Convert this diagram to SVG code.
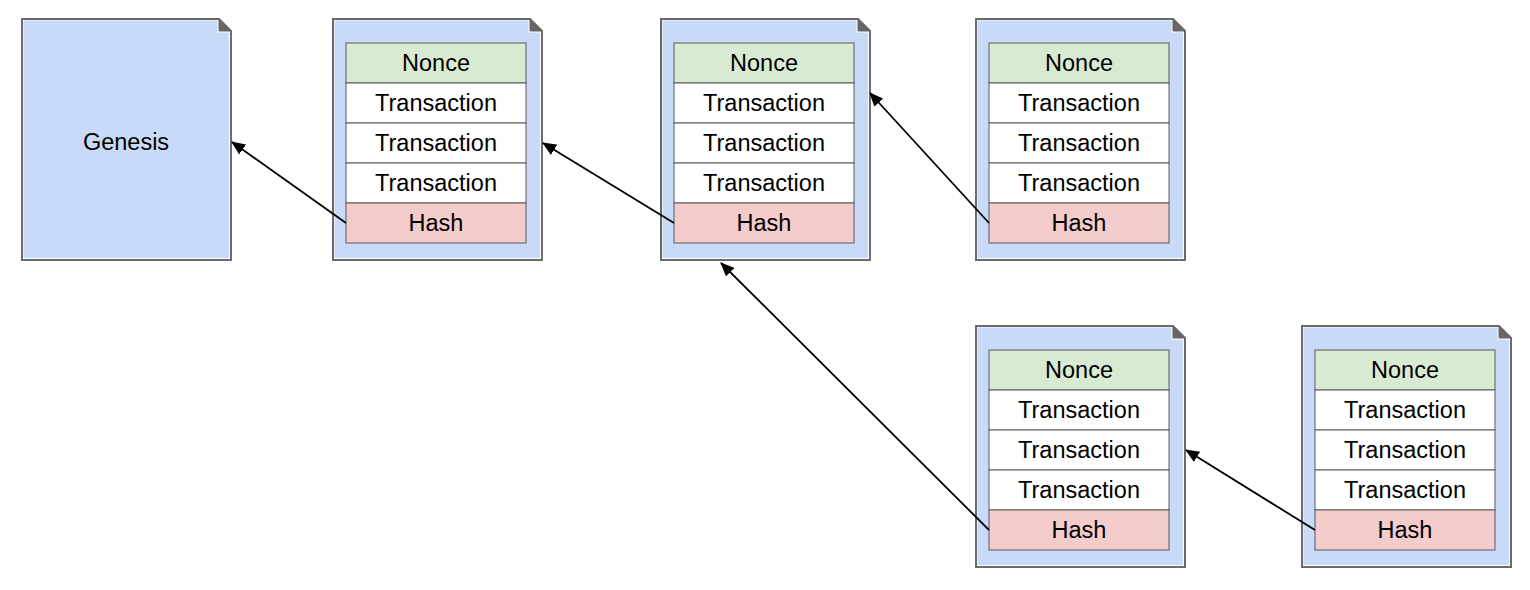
<svg xmlns="http://www.w3.org/2000/svg" xmlns:xlink="http://www.w3.org/1999/xlink" width="1530" height="590" viewBox="0 0 1530 590">
<style>
text{font-family:"Liberation Sans",Arial,sans-serif;font-size:23.5px;fill:#000;text-anchor:middle}
.nonce{fill:#d9ead3;stroke:#595959;stroke-width:1}
.tx{fill:#ffffff;stroke:#595959;stroke-width:1}
.hash{fill:#f4cccc;stroke:#595959;stroke-width:1}
.conn{stroke:#000;stroke-width:1.8;fill:none;marker-end:url(#arr)}
</style>
<defs>
<marker id="arr" markerUnits="userSpaceOnUse" markerWidth="14" markerHeight="12" refX="13" refY="6" orient="auto" viewBox="0 0 14 12">
<path d="M0,0 L14,6 L0,12 Z" fill="#000"/>
</marker>
<g id="doc">
<path d="M0,0 H197 L209,12 V241 H0 Z" fill="#ffffff" stroke="#6b6b6b" stroke-width="2"/>
<path d="M1.5,1.5 H195.5 V13.5 H207 V239 H1.5 Z" fill="#c9daf8"/>
<path d="M197,0 L209,12 H197 Z" fill="#666666" stroke="#666666" stroke-width="1"/>
</g>
<g id="table">
<rect class="nonce" x="13" y="24" width="180" height="40"/>
<rect class="tx" x="13" y="64" width="180" height="40"/>
<rect class="tx" x="13" y="104" width="180" height="40"/>
<rect class="tx" x="13" y="144" width="180" height="40"/>
<rect class="hash" x="13" y="184" width="180" height="40"/>
<text x="103" y="52">Nonce</text>
<text x="103" y="92">Transaction</text>
<text x="103" y="132">Transaction</text>
<text x="103" y="172">Transaction</text>
<text x="103" y="212">Hash</text>
</g>
</defs>
<g id="genesis" transform="translate(22,19)">
<use href="#doc" xlink:href="#doc"/>
<text x="104" y="131">Genesis</text>
</g>
<g id="block1" transform="translate(333,19)">
<use href="#doc" xlink:href="#doc"/>
<use href="#table" xlink:href="#table"/>
</g>
<g id="block2" transform="translate(661,19)">
<use href="#doc" xlink:href="#doc"/>
<use href="#table" xlink:href="#table"/>
</g>
<g id="block3" transform="translate(976,19)">
<use href="#doc" xlink:href="#doc"/>
<use href="#table" xlink:href="#table"/>
</g>
<g id="block4" transform="translate(976,326)">
<use href="#doc" xlink:href="#doc"/>
<use href="#table" xlink:href="#table"/>
</g>
<g id="block5" transform="translate(1302,326)">
<use href="#doc" xlink:href="#doc"/>
<use href="#table" xlink:href="#table"/>
</g>
<g id="connectors">
<line class="conn" x1="346" y1="223" x2="232" y2="142"/>
<line class="conn" x1="674" y1="223" x2="543" y2="143"/>
<line class="conn" x1="989" y1="223" x2="870" y2="93"/>
<line class="conn" x1="989" y1="530" x2="721" y2="263"/>
<line class="conn" x1="1315" y1="530" x2="1186" y2="450"/>
</g>
</svg>
